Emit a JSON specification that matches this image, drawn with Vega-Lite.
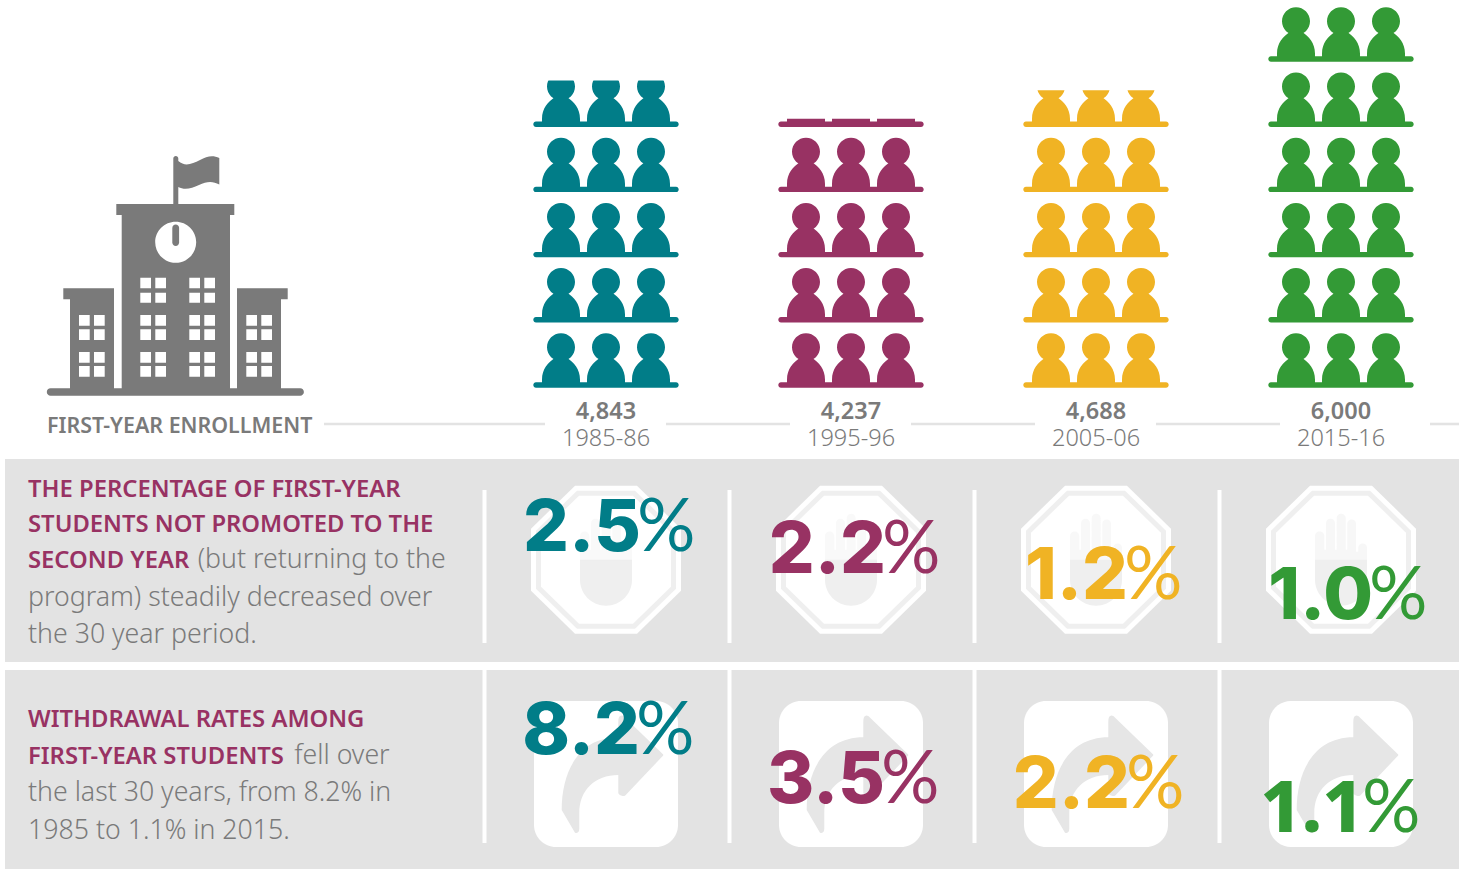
{"$schema":"https://vega.github.io/schema/vega-lite/v6.json","padding":{"left":5,"top":0,"right":0,"bottom":0},"background":"white","bounds":"flush","spacing":8,
"config":{"axis":{"disable":true},"legend":{"disable":true},"view":{"stroke":null},"text":{"font":"Noto Sans"}},
"datasets":{
"enrollment":[{"period":"1985-86","enrollment":4843},{"period":"1995-96","enrollment":4237},{"period":"2005-06","enrollment":4688},{"period":"2015-16","enrollment":6000}],
"shelves":[{"period":"1985-86","shelf":0},{"period":"1985-86","shelf":1028},{"period":"1985-86","shelf":2055},{"period":"1985-86","shelf":3083},{"period":"1985-86","shelf":4110},{"period":"1995-96","shelf":0},{"period":"1995-96","shelf":1028},{"period":"1995-96","shelf":2055},{"period":"1995-96","shelf":3083},{"period":"1995-96","shelf":4110},{"period":"2005-06","shelf":0},{"period":"2005-06","shelf":1028},{"period":"2005-06","shelf":2055},{"period":"2005-06","shelf":3083},{"period":"2005-06","shelf":4110},{"period":"2015-16","shelf":0},{"period":"2015-16","shelf":1028},{"period":"2015-16","shelf":2055},{"period":"2015-16","shelf":3083},{"period":"2015-16","shelf":4110},{"period":"2015-16","shelf":5138}],
"gaps":[{"from":"1985-86","to":"1995-96"},{"from":"1995-96","to":"2005-06"},{"from":"2005-06","to":"2015-16"}],
"notPromoted":[{"measure":"not promoted","period":"1985-86","rate":2.5,"label":"2.5"},{"measure":"not promoted","period":"1995-96","rate":2.2,"label":"2.2"},{"measure":"not promoted","period":"2005-06","rate":1.2,"label":"1.2"},{"measure":"not promoted","period":"2015-16","rate":1.0,"label":"1.0"}],
"withdrawal":[{"measure":"withdrawal","period":"1985-86","rate":8.2,"label":"8.2"},{"measure":"withdrawal","period":"1995-96","rate":3.5,"label":"3.5"},{"measure":"withdrawal","period":"2005-06","rate":2.2,"label":"2.2"},{"measure":"withdrawal","period":"2015-16","rate":1.1,"label":"1.1"}],
"text1":[{"period":"label","line":1,"kind":"head","text":"THE PERCENTAGE OF FIRST-YEAR"},{"period":"label","line":2,"kind":"head","text":"STUDENTS NOT PROMOTED TO THE"},{"period":"label","line":3,"kind":"head","text":"SECOND YEAR"},{"period":"label","line":3,"kind":"cont","text":"(but returning to the"},{"period":"label","line":4,"kind":"body","text":"program) steadily decreased over"},{"period":"label","line":5,"kind":"body","text":"the 30 year period."}],
"text2":[{"period":"label","line":1,"kind":"head","text":"WITHDRAWAL RATES AMONG"},{"period":"label","line":2,"kind":"head","text":"FIRST-YEAR STUDENTS"},{"period":"label","line":2,"kind":"cont","text":"fell over"},{"period":"label","line":3,"kind":"body","text":"the last 30 years, from 8.2% in"},{"period":"label","line":4,"kind":"body","text":"1985 to 1.1% in 2015."}]
},
"vconcat":[
{"width":1454,"height":451,
"encoding":{"x":{"field":"period","type":"nominal","scale":{"type":"point","domain":["label","1985-86","1995-96","2005-06","2015-16"],"range":[356,1336],"padding":0}}},
"layer":[
{"data":{"values":[{"period":"label"}]},"mark":{"type":"point","filled":true,"opacity":1,"size":4,"color":"#7a7a7a","xOffset":-361,"yOffset":-387.7,"shape":"M50.5,388.3H300.2A3.7,3.7 0 0 1 300.2,395.7H50.5A3.7,3.7 0 0 1 50.5,388.3ZM121.7,389V215H116.3V204H234.3V215H230V389ZM70,389V299.3H63.3V288.3H114V389ZM237,389V288.3H287.7V299.3H281V389ZM173.3,204V158.5A2.5,2.5 0 0 1 178.3,158.5V204ZM178.3,161C185,167 192,164 200,160C207,156 213,155 219.3,158V184.5C213,181 207,181 199,185C191,189 184,190 178.3,187Z"},"encoding":{"y":{"datum":0,"type":"quantitative","scale":{"domain":[0,6000],"range":[387.7,7]}}}},
{"data":{"values":[{"period":"label"}]},"mark":{"type":"point","filled":true,"opacity":1,"size":4,"color":"white","xOffset":-361,"yOffset":-387.7,"shape":"M155.2,242.3a20.5,20.5 0 1 0 41,0a20.5,20.5 0 1 0 -41,0ZM140.3,277.7H151V288.3H140.3ZM155.3,277.7H166V288.3H155.3ZM189.3,277.7H200V288.3H189.3ZM204.3,277.7H215V288.3H204.3ZM140.3,292.7H151V302.7H140.3ZM155.3,292.7H166V302.7H155.3ZM189.3,292.7H200V302.7H189.3ZM204.3,292.7H215V302.7H204.3ZM140.3,315H151V325.7H140.3ZM155.3,315H166V325.7H155.3ZM189.3,315H200V325.7H189.3ZM204.3,315H215V325.7H204.3ZM140.3,329.3H151V340H140.3ZM155.3,329.3H166V340H155.3ZM189.3,329.3H200V340H189.3ZM204.3,329.3H215V340H204.3ZM140.3,352H151V362.7H140.3ZM155.3,352H166V362.7H155.3ZM189.3,352H200V362.7H189.3ZM204.3,352H215V362.7H204.3ZM140.3,366H151V376.7H140.3ZM155.3,366H166V376.7H155.3ZM189.3,366H200V376.7H189.3ZM204.3,366H215V376.7H204.3ZM79,315H89.7V325.7H79ZM94,315H104.7V325.7H94ZM79,329.3H89.7V340H79ZM94,329.3H104.7V340H94ZM79,352H89.7V362.7H79ZM94,352H104.7V362.7H94ZM79,366H89.7V376.7H79ZM94,366H104.7V376.7H94ZM246.3,315H257V325.7H246.3ZM261.3,315H272V325.7H261.3ZM246.3,329.3H257V340H246.3ZM261.3,329.3H272V340H261.3ZM246.3,352H257V362.7H246.3ZM261.3,352H272V362.7H261.3ZM246.3,366H257V376.7H246.3ZM261.3,366H272V376.7H261.3Z"},"encoding":{"y":{"datum":0,"type":"quantitative"}}},
{"data":{"values":[{"period":"label"}]},"mark":{"type":"point","filled":true,"opacity":1,"size":4,"color":"#7a7a7a","xOffset":-361,"yOffset":-387.7,"shape":"M172.3,228A3.4,3.4 0 0 1 179.1,228V242.5A3.4,3.4 0 0 1 172.3,242.5Z"},"encoding":{"y":{"datum":0,"type":"quantitative"}}},
{"data":{"name":"shelves"},"mark":{"type":"point","filled":true,"opacity":1,"size":4,"shape":"M-70,-5.4H70A2.7,2.7 0 0 1 70,0H-70A2.7,2.7 0 0 1 -70,-5.4ZM-59,-40.4a14,14 0 1 1 28,0a14,14 0 1 1 -28,0ZM-14,-40.4a14,14 0 1 1 28,0a14,14 0 1 1 -28,0ZM31,-40.4a14,14 0 1 1 28,0a14,14 0 1 1 -28,0ZM-64,-3V-8C-64,-19 -58,-25 -51,-30L-39,-30C-32,-25 -26,-19 -26,-8V-3ZM-19,-3V-8C-19,-19 -13,-25 -6,-30L6,-30C13,-25 19,-19 19,-8V-3ZM26,-3V-8C26,-19 32,-25 39,-30L51,-30C58,-25 64,-19 64,-8V-3Z"},"encoding":{"y":{"field":"shelf","type":"quantitative"},"color":{"field":"period","type":"nominal","scale":{"domain":["1985-86","1995-96","2005-06","2015-16"],"range":["#017d88","#983263","#f0b324","#339a36"]}}}},
{"data":{"name":"enrollment"},"mark":{"type":"bar","size":170,"color":"white"},"encoding":{"y":{"field":"enrollment","type":"quantitative"},"y2":{"datum":6000}}},
{"data":{"name":"gaps"},"mark":{"type":"rule","color":"#e3e3e3","size":2.6,"xOffset":60,"x2Offset":-61},"encoding":{"x":{"field":"from","type":"nominal"},"x2":{"field":"to"},"y":{"value":424}}},
{"data":{"values":[{}]},"mark":{"type":"rule","color":"#e3e3e3","size":2.6},"encoding":{"x":{"value":319},"x2":{"value":540},"y":{"value":424}}},
{"data":{"values":[{}]},"mark":{"type":"rule","color":"#e3e3e3","size":2.6},"encoding":{"x":{"value":1425},"x2":{"value":1454},"y":{"value":424}}},
{"data":{"name":"enrollment"},"mark":{"type":"text","fontSize":23.5,"fontWeight":600,"color":"#7a7a7a","baseline":"alphabetic"},"encoding":{"text":{"field":"enrollment","type":"quantitative","format":","},"y":{"value":419}}},
{"data":{"name":"enrollment"},"mark":{"type":"text","fontSize":23.5,"fontWeight":300,"color":"#7a7a7a","baseline":"alphabetic"},"encoding":{"text":{"field":"period","type":"nominal"},"y":{"value":446.3}}},
{"data":{"values":[{"period":"label","text":"FIRST-YEAR ENROLLMENT"}]},"mark":{"type":"text","fontSize":21.4,"fontWeight":600,"color":"#7a7a7a","baseline":"alphabetic","align":"left","dx":-314},"encoding":{"text":{"field":"text"},"y":{"value":433}}}
]},
{"width":1454,"height":203,"view":{"fill":"#e3e3e3","stroke":null},"resolve":{"scale":{"y":"independent"}},
"encoding":{"x":{"field":"period","type":"nominal","scale":{"type":"point","domain":["label","1985-86","1995-96","2005-06","2015-16"],"range":[356,1336],"padding":0}}},
"layer":[
{"data":{"name":"notPromoted"},"mark":{"type":"rule","color":"white","size":4,"xOffset":-121.5},"encoding":{"y":{"value":31},"y2":{"value":184}}},
{"data":{"name":"notPromoted"},"encoding":{"y":{"field":"measure","type":"nominal","scale":{"type":"point","domain":["not promoted"],"range":[100.7,100.7]}}},"layer":[
{"mark":{"type":"point","filled":true,"opacity":1,"size":4,"color":"white","shape":"M-31,-74H31L75,-31V31L31,74H-31L-75,31V-31Z"}},
{"mark":{"type":"point","filled":true,"opacity":1,"size":4,"color":"#efefef","shape":"M-29,-69H29L70,-29V29L29,69H-29L-70,29V-29Z"}},
{"mark":{"type":"point","filled":true,"opacity":1,"size":4,"color":"white","shape":"M-27,-64H27L65,-27V27L27,64H-27L-65,27V-27Z"}},
{"mark":{"type":"point","filled":true,"opacity":1,"size":4,"color":"#efefef","shape":"M-26,0V20A26,26 0 0 0 26,20V0Z"}},
{"mark":{"type":"point","filled":true,"size":4,"color":"#efefef","shape":"M-26,1V-23.5A4.6,4.6 0 0 1 -16.7,-23.5V-10H-15V-36.5A4.5,4.5 0 0 1 -6,-36.5V-10H-4.3V-41.5A4.5,4.5 0 0 1 4.7,-41.5V-10H6.3V-36.5A4.4,4.4 0 0 1 15,-36.5V-8H17.3V-12.5A4.4,4.4 0 0 1 26,-12.5V1Z"},"encoding":{"opacity":{"field":"period","type":"nominal","scale":{"domain":["1985-86","1995-96","2005-06","2015-16"],"range":[0.35,0.5,1,1]}}}}
]},
{"data":{"name":"text1"},"encoding":{"y":{"field":"line","type":"quantitative","scale":{"domain":[1,2,3,4,5],"range":[37.8,72.7,109.3,147,184.3]}},"text":{"field":"text"}},"layer":[
{"transform":[{"filter":"datum.kind==='head'"}],"mark":{"type":"text","fontSize":23.8,"fontWeight":600,"color":"#983263","baseline":"alphabetic","align":"left","dx":-333}},
{"transform":[{"filter":"datum.kind==='body'"}],"mark":{"type":"text","fontSize":26.7,"fontWeight":300,"color":"#7a7a7a","baseline":"alphabetic","align":"left","dx":-333}},
{"transform":[{"filter":"datum.kind==='cont'"}],"mark":{"type":"text","fontSize":26.7,"fontWeight":300,"color":"#7a7a7a","baseline":"alphabetic","align":"left","dx":-163.3}}
]},
{"data":{"name":"notPromoted"},"encoding":{"y":{"field":"rate","type":"quantitative","scale":{"domain":[1.0,1.2,2.2,2.5],"range":[159.5,139.7,114,91.7]}},"xOffset":{"field":"rate","type":"quantitative","scale":{"domain":[1.0,1.2,2.2,2.5],"range":[28,28,31,31]}},"color":{"field":"period","type":"nominal","scale":{"domain":["1985-86","1995-96","2005-06","2015-16"],"range":["#017d88","#983263","#f0b324","#339a36"]}}},"layer":[
{"mark":{"type":"text","font":"Inter","fontSize":72,"fontWeight":800,"baseline":"alphabetic","align":"right","dx":4},"encoding":{"text":{"field":"label"}}},
{"mark":{"type":"text","font":"Lato","fontSize":73,"fontWeight":400,"baseline":"alphabetic","align":"left","text":"%"}}
]}
]},
{"width":1454,"height":199,"view":{"fill":"#e3e3e3","stroke":null},"resolve":{"scale":{"y":"independent"}},
"encoding":{"x":{"field":"period","type":"nominal","scale":{"type":"point","domain":["label","1985-86","1995-96","2005-06","2015-16"],"range":[356,1336],"padding":0}}},
"layer":[
{"data":{"name":"withdrawal"},"mark":{"type":"rule","color":"white","size":4,"xOffset":-121.5},"encoding":{"y":{"value":0},"y2":{"value":173}}},
{"data":{"name":"withdrawal"},"encoding":{"y":{"field":"measure","type":"nominal","scale":{"type":"point","domain":["withdrawal"],"range":[104,104]}}},"layer":[
{"mark":{"type":"point","filled":true,"opacity":1,"size":4,"color":"white","shape":"M-50,-73H50A22,22 0 0 1 72,-51V51A22,22 0 0 1 50,73H-50A22,22 0 0 1 -72,51V-51A22,22 0 0 1 -50,-73Z"}},
{"mark":{"type":"point","filled":true,"opacity":1,"size":4,"color":"#e6e6e6","shape":"M56.7,-20L17.3,-58Q12.3,-60 12.3,-52.3V-36.7C-26,-36.7 -44.3,-4 -44.3,36L-31,58.7Q-26.7,60 -26.7,54.3V39.3C-26.7,16 -11,1 12.3,1V19.3Q14,23 19,21.7L56.7,-18Q58,-19 56.7,-20Z"}}
]},
{"data":{"name":"text2"},"encoding":{"y":{"field":"line","type":"quantitative","scale":{"domain":[1,2,3,4],"range":[56.6,93.6,130.6,168.6]}},"text":{"field":"text"}},"layer":[
{"transform":[{"filter":"datum.kind==='head'"}],"mark":{"type":"text","fontSize":23.8,"fontWeight":600,"color":"#983263","baseline":"alphabetic","align":"left","dx":-333}},
{"transform":[{"filter":"datum.kind==='body'"}],"mark":{"type":"text","fontSize":26.7,"fontWeight":300,"color":"#7a7a7a","baseline":"alphabetic","align":"left","dx":-333}},
{"transform":[{"filter":"datum.kind==='cont'"}],"mark":{"type":"text","fontSize":26.7,"fontWeight":300,"color":"#7a7a7a","baseline":"alphabetic","align":"left","dx":-66.7}}
]},
{"data":{"name":"withdrawal"},"encoding":{"y":{"field":"rate","type":"quantitative","scale":{"domain":[1.1,2.2,3.5,8.2],"range":[161.5,138,133,84]}},"color":{"field":"period","type":"nominal","scale":{"domain":["1985-86","1995-96","2005-06","2015-16"],"range":["#017d88","#983263","#f0b324","#339a36"]}}},"layer":[
{"transform":[{"filter":"datum.rate!==1.1"}],"mark":{"type":"text","font":"Inter","fontSize":72,"fontWeight":800,"baseline":"alphabetic","align":"right","dx":34},"encoding":{"text":{"field":"label"}}},
{"transform":[{"filter":"datum.rate!==1.1"}],"mark":{"type":"text","font":"Lato","fontSize":73,"fontWeight":400,"baseline":"alphabetic","align":"left","dx":30,"text":"%"}},
{"transform":[{"filter":"datum.rate===1.1"}],"mark":{"type":"text","font":"Noto Sans","fontSize":72,"fontWeight":800,"baseline":"alphabetic","align":"right","dx":23},"encoding":{"text":{"field":"label"}}},
{"transform":[{"filter":"datum.rate===1.1"}],"mark":{"type":"text","font":"Lato","fontSize":73,"fontWeight":400,"baseline":"alphabetic","align":"left","dx":21,"text":"%"}}
]}
]}
]}
